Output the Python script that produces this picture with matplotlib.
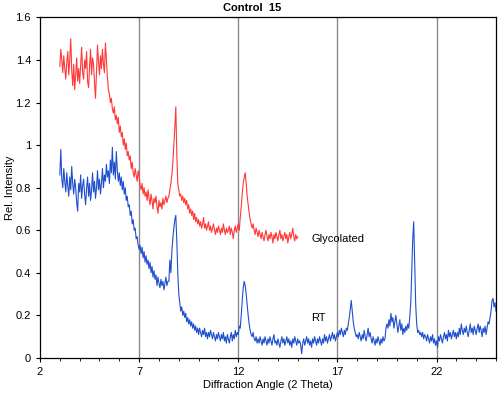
import numpy as np
import matplotlib
matplotlib.use("Agg")
import matplotlib.pyplot as plt

plt.rcParams['font.family'] = ['Liberation Sans', 'DejaVu Sans']

# scan grid (2 Theta), step 0.05
x_step = 0.05
glyc_start = 3.0
rt_start = 3.0

glycolated = [
    1.37, 1.45, 1.40, 1.34, 1.42, 1.36, 1.31, 1.39, 1.44, 1.33,
    1.40, 1.50, 1.35, 1.28, 1.38, 1.26, 1.33, 1.41, 1.30, 1.36,
    1.29, 1.38, 1.46, 1.34, 1.31, 1.40, 1.36, 1.44, 1.30, 1.27,
    1.37, 1.45, 1.33, 1.41, 1.38, 1.29, 1.22, 1.35, 1.47, 1.39,
    1.33, 1.42, 1.36, 1.45, 1.38, 1.34, 1.48, 1.40, 1.32, 1.26,
    1.24, 1.20, 1.22, 1.17, 1.15, 1.18, 1.12, 1.14, 1.10, 1.13,
    1.06, 1.09, 1.04, 1.06, 1.00, 1.03, 0.98, 1.01, 0.95, 0.97,
    0.93, 0.95, 0.89, 0.92, 0.87, 0.85, 0.89, 0.86, 0.83, 0.88,
    0.85, 0.81, 0.79, 0.82, 0.77, 0.80, 0.76, 0.78, 0.74, 0.79,
    0.75, 0.72, 0.77, 0.74, 0.70, 0.75, 0.73, 0.76, 0.71, 0.68,
    0.74, 0.71, 0.73, 0.70, 0.75, 0.72, 0.74, 0.76, 0.73, 0.75,
    0.76, 0.79, 0.82, 0.86, 0.92, 1.00, 1.08, 1.18, 0.96, 0.82,
    0.79, 0.76, 0.77, 0.74, 0.76, 0.73, 0.75, 0.72, 0.74, 0.70,
    0.72, 0.68, 0.70, 0.67, 0.69, 0.65, 0.68, 0.64, 0.66, 0.63,
    0.65, 0.62, 0.64, 0.61, 0.63, 0.66, 0.61, 0.63, 0.60, 0.62,
    0.64, 0.60, 0.62, 0.59, 0.61, 0.63, 0.60, 0.58, 0.61, 0.59,
    0.62, 0.60, 0.58, 0.61, 0.59, 0.63, 0.60, 0.58, 0.61, 0.59,
    0.60, 0.62, 0.58, 0.61, 0.59, 0.56, 0.60, 0.62, 0.59, 0.61,
    0.63, 0.60, 0.66, 0.71, 0.77, 0.82, 0.85, 0.87, 0.82, 0.76,
    0.72, 0.68, 0.65, 0.63, 0.61, 0.63, 0.60, 0.58, 0.61, 0.59,
    0.57, 0.60, 0.58, 0.56, 0.59, 0.57, 0.55, 0.58, 0.60, 0.57,
    0.55, 0.58, 0.56, 0.59, 0.57, 0.54, 0.58, 0.56, 0.59, 0.57,
    0.55, 0.58, 0.60, 0.56, 0.58, 0.55, 0.57, 0.59, 0.56, 0.58,
    0.54, 0.57, 0.59, 0.56, 0.58, 0.61, 0.57, 0.55, 0.58, 0.56,
    0.57,
]

rt = [
    0.86, 0.98, 0.84, 0.80, 0.89, 0.83, 0.78, 0.87, 0.81, 0.76,
    0.85, 0.79, 0.90, 0.82, 0.77, 0.84, 0.80, 0.73, 0.69, 0.82,
    0.78, 0.86, 0.75, 0.81, 0.84, 0.77, 0.72, 0.80, 0.85, 0.76,
    0.82, 0.74, 0.79, 0.87, 0.78, 0.83, 0.75, 0.80, 0.88, 0.79,
    0.84, 0.77, 0.82, 0.89, 0.80, 0.86, 0.83, 0.91, 0.85, 0.88,
    0.82, 0.93, 0.87, 0.99, 0.86, 0.92, 0.84, 0.97, 0.88, 0.83,
    0.87, 0.81, 0.85, 0.79, 0.83, 0.77, 0.80, 0.74, 0.76, 0.71,
    0.72, 0.67, 0.69, 0.63, 0.65, 0.60, 0.61, 0.56, 0.57, 0.53,
    0.51, 0.53, 0.49, 0.52, 0.47, 0.50, 0.45, 0.48, 0.44, 0.46,
    0.42, 0.45, 0.40, 0.43, 0.38, 0.41, 0.37, 0.39, 0.34, 0.38,
    0.35, 0.33, 0.37, 0.34, 0.36, 0.32, 0.35, 0.38, 0.34, 0.36,
    0.36, 0.46, 0.40, 0.50, 0.56, 0.61, 0.65, 0.67, 0.55, 0.40,
    0.30, 0.26, 0.22, 0.24, 0.20, 0.22, 0.19, 0.21, 0.17, 0.19,
    0.16, 0.18, 0.15, 0.17, 0.14, 0.16, 0.13, 0.15, 0.12, 0.14,
    0.11, 0.14, 0.12, 0.10, 0.13, 0.11, 0.14, 0.10, 0.12, 0.09,
    0.12, 0.10, 0.13, 0.11, 0.09, 0.12, 0.10, 0.08, 0.11, 0.09,
    0.12, 0.10, 0.08, 0.11, 0.09, 0.12, 0.08, 0.10, 0.07, 0.11,
    0.09, 0.07, 0.10, 0.12, 0.08, 0.11, 0.09, 0.13, 0.10, 0.12,
    0.11, 0.15, 0.14, 0.20, 0.27, 0.33, 0.36, 0.34, 0.30, 0.25,
    0.20, 0.16, 0.13, 0.11, 0.10, 0.12, 0.09, 0.08, 0.10, 0.07,
    0.09, 0.07, 0.10, 0.08, 0.06, 0.09, 0.07, 0.10, 0.08, 0.06,
    0.09, 0.07, 0.10, 0.08, 0.06, 0.09, 0.11, 0.07, 0.08, 0.06,
    0.09, 0.07, 0.05, 0.08, 0.10, 0.07, 0.09, 0.06, 0.08, 0.10,
    0.07, 0.09, 0.06, 0.08, 0.05, 0.09, 0.07, 0.10, 0.08, 0.06,
    0.09, 0.07, 0.08, 0.06, 0.02, 0.07, 0.09, 0.06, 0.08, 0.10,
    0.07, 0.09, 0.06, 0.08, 0.05, 0.09, 0.07, 0.10, 0.08, 0.06,
    0.09, 0.07, 0.10, 0.08, 0.06, 0.09, 0.07, 0.11, 0.08, 0.10,
    0.07, 0.09, 0.11, 0.08, 0.10, 0.12, 0.09, 0.11, 0.08, 0.10,
    0.12, 0.10, 0.13, 0.11, 0.14, 0.12, 0.10, 0.13, 0.11, 0.14,
    0.13, 0.16, 0.19, 0.23, 0.27, 0.22, 0.17, 0.14, 0.12, 0.10,
    0.11, 0.09, 0.12, 0.10, 0.08, 0.11, 0.09, 0.13, 0.10, 0.08,
    0.11, 0.14, 0.10, 0.12, 0.09, 0.07, 0.10, 0.08, 0.06, 0.09,
    0.07, 0.10, 0.08, 0.06, 0.09, 0.07, 0.10, 0.08, 0.09, 0.14,
    0.16, 0.14, 0.18, 0.15, 0.21, 0.17, 0.19, 0.14, 0.17, 0.20,
    0.16, 0.12, 0.15, 0.18, 0.13, 0.16, 0.11, 0.14, 0.12, 0.15,
    0.13, 0.16, 0.14, 0.19, 0.26, 0.40, 0.56, 0.64, 0.45, 0.25,
    0.16, 0.12, 0.13, 0.11, 0.12, 0.10, 0.12, 0.09, 0.11, 0.10,
    0.08, 0.11, 0.09, 0.07, 0.10, 0.08, 0.11, 0.07, 0.09, 0.06,
    0.08, 0.05, 0.10, 0.08, 0.11, 0.09, 0.07, 0.10, 0.12, 0.09,
    0.11, 0.08, 0.13, 0.10, 0.12, 0.09, 0.11, 0.13, 0.10, 0.12,
    0.09, 0.12, 0.10, 0.14, 0.11, 0.16, 0.13, 0.11, 0.14, 0.12,
    0.15, 0.12, 0.10, 0.13, 0.16, 0.12, 0.14, 0.11, 0.15, 0.13,
    0.11, 0.14, 0.16, 0.12, 0.15, 0.13, 0.10, 0.14, 0.12, 0.15,
    0.11, 0.14, 0.17, 0.16, 0.19, 0.22, 0.27, 0.28, 0.24, 0.26,
    0.22,
]

xticks = [2, 7, 12, 17, 22]
yticks = [0, 0.2, 0.4, 0.6, 0.8, 1.0, 1.2, 1.4, 1.6]
ytick_labels = ["0", "0.2", "0.4", "0.6", "0.8", "1", "1.2", "1.4", "1.6"]
grid_lines = [7, 12, 17, 22]

x_glyc = glyc_start + x_step * np.arange(len(glycolated))
x_rt = rt_start + x_step * np.arange(len(rt))

fig = plt.figure(figsize=(5.0, 3.96), dpi=100)
ax = fig.add_axes([0.08, 0.096, 0.912, 0.860])

for g in grid_lines:
    ax.axvline(g, color='#8a8a8a', lw=1.0, zorder=1)

ax.plot(x_glyc, glycolated, color='#ff3838', lw=0.8, zorder=3)
ax.plot(x_rt, rt, color='#1f4fcc', lw=0.8, zorder=3)

ax.text(15.7, 0.56, "Glycolated", fontsize=8, va='center', ha='left')
ax.text(15.65, 0.19, "RT", fontsize=8, va='center', ha='left')

ax.set_xlim(2, 25)
ax.set_ylim(0, 1.6)
ax.set_xticks(xticks)
ax.set_xticks(np.arange(2, 26, 1), minor=True)
ax.set_yticks(yticks)
ax.set_yticklabels(ytick_labels)
ax.tick_params(axis='both', which='major', labelsize=8, length=3, direction='out', width=0.8)
ax.tick_params(axis='x', which='minor', length=2, width=0.6)
for s in ax.spines.values():
    s.set_linewidth(0.9)
    s.set_color('black')

ax.set_xlabel("Diffraction Angle (2 Theta)", fontsize=8, labelpad=2)
ax.set_ylabel("Rel. Intensity", fontsize=8, labelpad=0.5)
fig.text(0.504, 0.979, "Control  15", fontsize=8, fontweight='bold', ha='center', va='center')

fig.savefig("out.png", dpi=100)
